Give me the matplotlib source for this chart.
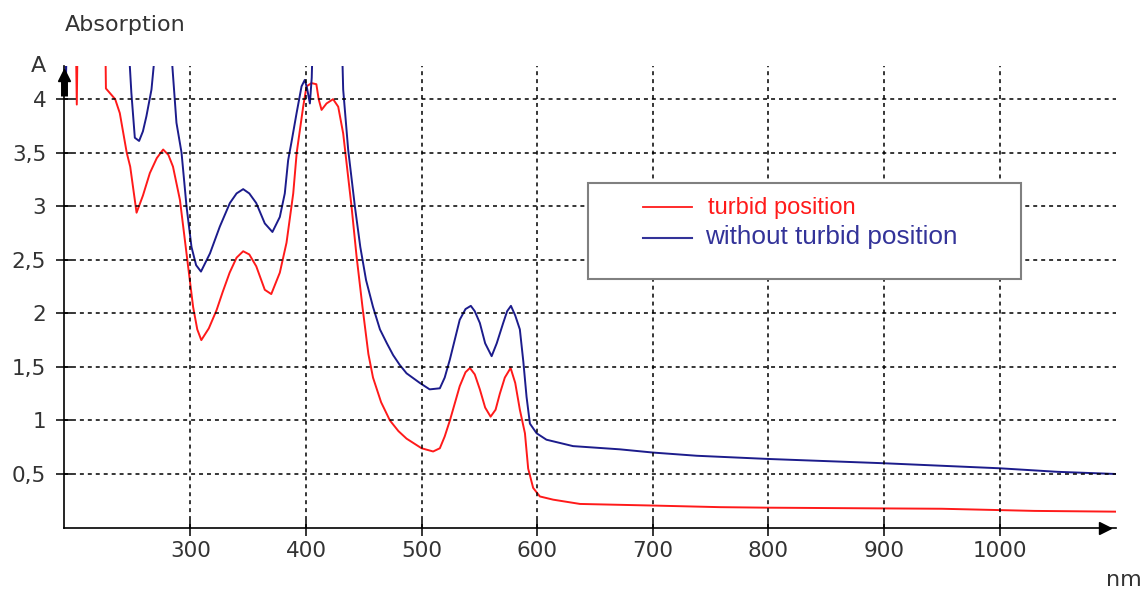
import matplotlib
matplotlib.use("Agg")
import matplotlib.pyplot as plt
from matplotlib.patches import Rectangle
from matplotlib.lines import Line2D

# ---------------- data ----------------
red_nm = [191, 200.5, 201.8, 203, 226, 227, 231, 235, 239, 245, 248, 253.5, 259, 265,
          271, 276.5, 281, 285, 291, 296.7, 302.4, 306, 309.5, 316, 322.7, 328, 334,
          340, 345.7, 351, 357, 364.4, 370, 377.4, 383.2, 389, 392, 397.6, 400.5,
          404.8, 409, 411, 413.5, 417.8, 423.5, 427.9, 432.2, 439.4, 443.8, 449, 454,
          458, 465, 472.6, 480, 487, 500, 510, 515.8, 520, 524.5, 533, 538, 541.8, 546,
          550.4, 555, 559.7, 564, 567.7, 572, 577, 581, 585, 589.4, 592.2, 596.5,
          602.3, 613.8, 637, 700, 758, 800, 950, 1030, 1100]
red_A = [5.0, 5.0, 3.95, 5.0, 5.0, 4.10, 4.05, 4.0, 3.87, 3.5, 3.37, 2.94, 3.10, 3.31,
         3.45, 3.53, 3.48, 3.37, 3.06, 2.56, 2.06, 1.85, 1.75, 1.86, 2.03, 2.2, 2.38,
         2.52, 2.58, 2.55, 2.44, 2.22, 2.18, 2.38, 2.66, 3.12, 3.5, 3.93, 4.12,
         4.15, 4.14, 4.0, 3.90, 3.96, 4.0, 3.93, 3.68, 3.0, 2.53, 2.05, 1.62,
         1.40, 1.17, 1.0, 0.9, 0.83, 0.74, 0.71, 0.74, 0.85, 1.0, 1.32, 1.45, 1.49, 1.43,
         1.29, 1.12, 1.035, 1.1, 1.25, 1.40, 1.49, 1.35, 1.10, 0.88, 0.55, 0.37,
         0.29, 0.26, 0.22, 0.205, 0.19, 0.185, 0.175, 0.155, 0.148]

blue_nm = [191, 192.5, 194, 244, 249, 252, 255.7, 259, 262, 266.4, 270, 272, 282, 284.5,
           288, 292.4, 296.7, 301, 305, 309.2, 317, 325.5, 334.2, 340, 345.7, 351, 357,
           364.4, 371, 377.4, 381.7, 384.6, 387.5, 391.9, 396.2, 399, 401, 403.4, 405,
           407, 430, 432.2, 436.5, 442.3, 447, 452, 458, 464, 470, 475.4, 481, 487,
           498.5, 507, 515.8, 520, 524.5, 533, 538, 542.6, 546, 550.4, 555, 560.6, 565,
           570.6, 574, 577.3, 581, 585, 588, 590.8, 593.7, 599.5, 608, 631, 671.5, 700,
           738, 800, 900, 1000, 1050, 1100]
blue_A = [5.0, 4.22, 5.0, 5.0, 4.06, 3.64, 3.61, 3.70, 3.84, 4.09, 4.5, 5.0, 5.0, 4.3,
          3.78, 3.5, 3.0, 2.62, 2.45, 2.39, 2.56, 2.81, 3.03, 3.12, 3.16, 3.12, 3.03,
          2.84, 2.76, 2.90, 3.12, 3.43, 3.6, 3.87, 4.12, 4.18, 4.1, 3.96, 4.2,
          5.0, 5.0, 4.09, 3.53, 3.0, 2.62, 2.31, 2.06, 1.85, 1.72, 1.61, 1.52, 1.44,
          1.35, 1.29, 1.30, 1.40, 1.57, 1.94, 2.04, 2.07, 2.02, 1.91, 1.72, 1.60, 1.72,
          1.91, 2.02, 2.07, 1.98, 1.85, 1.55, 1.22, 0.97, 0.88, 0.82, 0.76, 0.73, 0.70,
          0.67, 0.64, 0.60, 0.553, 0.52, 0.50]

x_ticks = [300, 400, 500, 600, 700, 800, 900, 1000]
x_labels = ["300", "400", "500", "600", "700", "800", "900", "1000"]
y_ticks = [0.5, 1, 1.5, 2, 2.5, 3, 3.5, 4]
y_labels = ["0,5", "1", "1,5", "2", "2,5", "3", "3,5", "4"]

series_labels = ["turbid position", "without turbid position"]
red_color = "#ff1a1a"
blue_color = "#1c1c8c"
blue_text = "#333399"

# ---------------- figure ----------------
W, H = 1144, 590
fig = plt.figure(figsize=(W / 100, H / 100), dpi=100)
ax_l, ax_r, ax_b, ax_t = 64.3, 1116, 527.5, 66
ax = fig.add_axes([ax_l / W, (H - ax_b) / H, (ax_r - ax_l) / W, (ax_b - ax_t) / H])

ax.plot(red_nm, red_A, color=red_color, lw=1.4, zorder=2)
ax.plot(blue_nm, blue_A, color=blue_color, lw=1.4, zorder=2)

ax.set_xlim(191, 1100.6)
ax.set_ylim(0, 4.31)

ax.set_xticks(x_ticks)
ax.set_xticklabels(x_labels)
ax.set_yticks(y_ticks)
ax.set_yticklabels(y_labels)

for s in ["top", "right"]:
    ax.spines[s].set_visible(False)
for s in ["left", "bottom"]:
    ax.spines[s].set_linewidth(1.2)
    ax.spines[s].set_color("black")

ax.tick_params(axis="both", direction="inout", length=12, width=1.1, color="black",
               labelsize=15.5, labelcolor="#333333")
ax.tick_params(axis="y", pad=7)
ax.tick_params(axis="x", pad=4)
for lab in ax.get_xticklabels() + ax.get_yticklabels():
    lab.set_family("DejaVu Sans")

ax.grid(True, color="black", linestyle=(0, (2.6, 2.6)), linewidth=1.1, zorder=3)
ax.set_axisbelow(False)

# axis arrows
ax.plot([0.99], [0.0], marker=">", ms=9, color="black", transform=ax.transAxes,
        clip_on=False, zorder=5)
ax.plot([0.0, 0.0], [0.935, 0.975], color="black", lw=5, transform=ax.transAxes,
        clip_on=False, zorder=5, solid_capstyle="butt")
ax.plot([0.0], [0.98], marker="^", ms=8, color="black", transform=ax.transAxes,
        clip_on=False, zorder=5)

# axis texts
fig.text(65 / W, 1 - 25 / H, "Absorption", fontsize=16, color="#333333",
         ha="left", va="center", family="DejaVu Sans")
fig.text(38 / W, 1 - 66 / H, "A", fontsize=16, color="#333333",
         ha="center", va="center", family="DejaVu Sans")
fig.text(1124 / W, 1 - 580 / H, "nm", fontsize=16, color="#333333",
         ha="center", va="center", family="DejaVu Sans")

# legend box
lx0, lx1, ly0, ly1 = 588, 1020.5, 183, 279
fig.patches.append(Rectangle((lx0 / W, 1 - ly1 / H), (lx1 - lx0) / W, (ly1 - ly0) / H,
                             transform=fig.transFigure, facecolor="white",
                             edgecolor="#808080", linewidth=1.5, zorder=10))
fig.lines.append(Line2D([643 / W, 692 / W], [1 - 207 / H, 1 - 207 / H],
                        transform=fig.transFigure, color=red_color, lw=1.3, zorder=11))
fig.lines.append(Line2D([643 / W, 692 / W], [1 - 238 / H, 1 - 238 / H],
                        transform=fig.transFigure, color=blue_text, lw=1.5, zorder=11))
fig.text(708 / W, 1 - 208 / H, series_labels[0], fontsize=17, color=red_color,
         ha="left", va="center", family="Liberation Sans", zorder=12)
fig.text(705 / W, 1 - 237 / H, series_labels[1], fontsize=18.8, color=blue_text,
         ha="left", va="center", family="Liberation Sans", zorder=12)

fig.savefig("out.png", dpi=100)
